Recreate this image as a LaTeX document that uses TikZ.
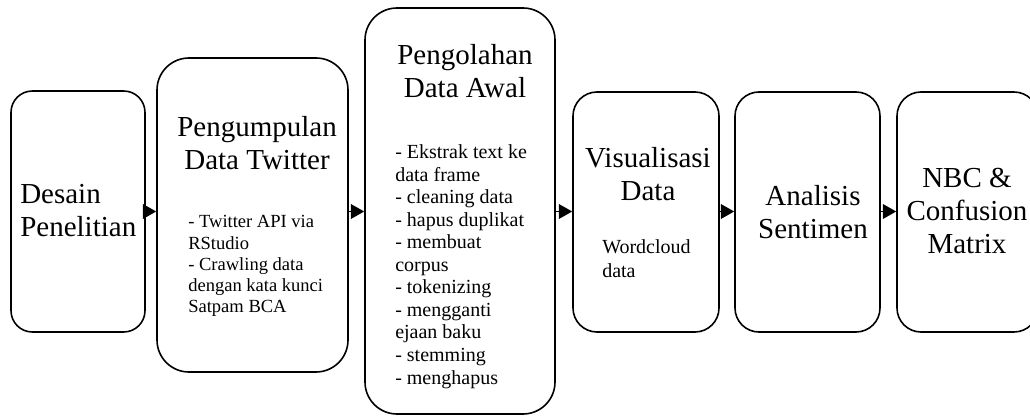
\documentclass[tikz,border=0pt]{standalone}
\usepackage{fontspec}
\setmainfont{Liberation Serif}
\usepackage{tikz}
\usetikzlibrary{shapes,positioning,fit,arrows.meta}

\begin{document}
\begin{tikzpicture}[x=0.75pt,y=-0.75pt]
    %styles
    \tikzstyle{stepbox}=[rectangle,draw,line width=1.2pt,inner sep=0pt]
    \tikzstyle{title}=[inner sep=0pt,font=\fontsize{21.75pt}{25pt}\selectfont]
    \tikzstyle{detail}=[inner sep=0pt,align=left]
    \tikzstyle{flow}=[-{Triangle[length=10pt,width=11pt]},line width=1pt]
    \useasboundingbox (0,0) rectangle (1030,416);
    %boxes
    \node[stepbox,fit={(11,91) (145,332)},rounded corners=16pt] (desain) {};
    \node[stepbox,fit={(157,58) (348,372)},rounded corners=24pt] (kumpul) {};
    \node[stepbox,fit={(365,8) (555,414)},rounded corners=24pt] (olah) {};
    \node[stepbox,fit={(573,92) (719,332)},rounded corners=18pt] (visual) {};
    \node[stepbox,fit={(735,92) (880,332)},rounded corners=18pt] (analisis) {};
    \node[stepbox,fit={(897,92) (1038,332)},rounded corners=18pt] (nbc) {};
    %titles (anchored at the baseline of the last line)
    \node[title,align=left,anchor=base west] (tdesain) at (20,237) {Desain\\Penelitian};
    \node[title,align=center,anchor=base] (tkumpul) at (257,170) {Pengumpulan\\Data Twitter};
    \node[title,align=center,anchor=base] (tolah) at (465,98) {Pengolahan\\Data Awal};
    \node[title,align=center,anchor=base] (tvisual) at (648,201) {Visualisasi\\Data};
    \node[title,align=center,anchor=base] (tanalisis) at (813,239) {Analisis\\Sentimen};
    \node[title,align=center,anchor=base] (tnbc) at (967,254) {NBC \&\\Confusion\\Matrix};
    %details
    \node[detail,anchor=base west,font=\fontsize{13.9pt}{15.75pt}\selectfont] (dkumpul) at (188,312)
        {- Twitter API via\\RStudio\\- Crawling data\\dengan kata kunci\\Satpam BCA};
    \begin{scope}
        \clip (365,8) rectangle (555,388);
        \node[detail,anchor=base west,font=\fontsize{15pt}{16.9pt}\selectfont] (dolah) at (395,384)
            {- Ekstrak text ke\\data frame\\- cleaning data\\- hapus duplikat\\- membuat\\corpus\\- tokenizing\\- mengganti\\ejaan baku\\- stemming\\- menghapus};
    \end{scope}
    \node[detail,anchor=base west,font=\fontsize{15pt}{17.6pt}\selectfont] (dvisual) at (602,277) {Wordcloud\\data};
    %arrows
    \draw[flow] (desain.east) -- (desain.east -| kumpul.west);
    \draw[flow] (kumpul.east |- desain.east) -- (desain.east -| olah.west);
    \draw[flow] (olah.east |- desain.east) -- (desain.east -| visual.west);
    \draw[flow] (visual.east |- desain.east) -- (desain.east -| analisis.west);
    \draw[flow] (analisis.east |- desain.east) -- (desain.east -| nbc.west);
\end{tikzpicture}
\end{document}
